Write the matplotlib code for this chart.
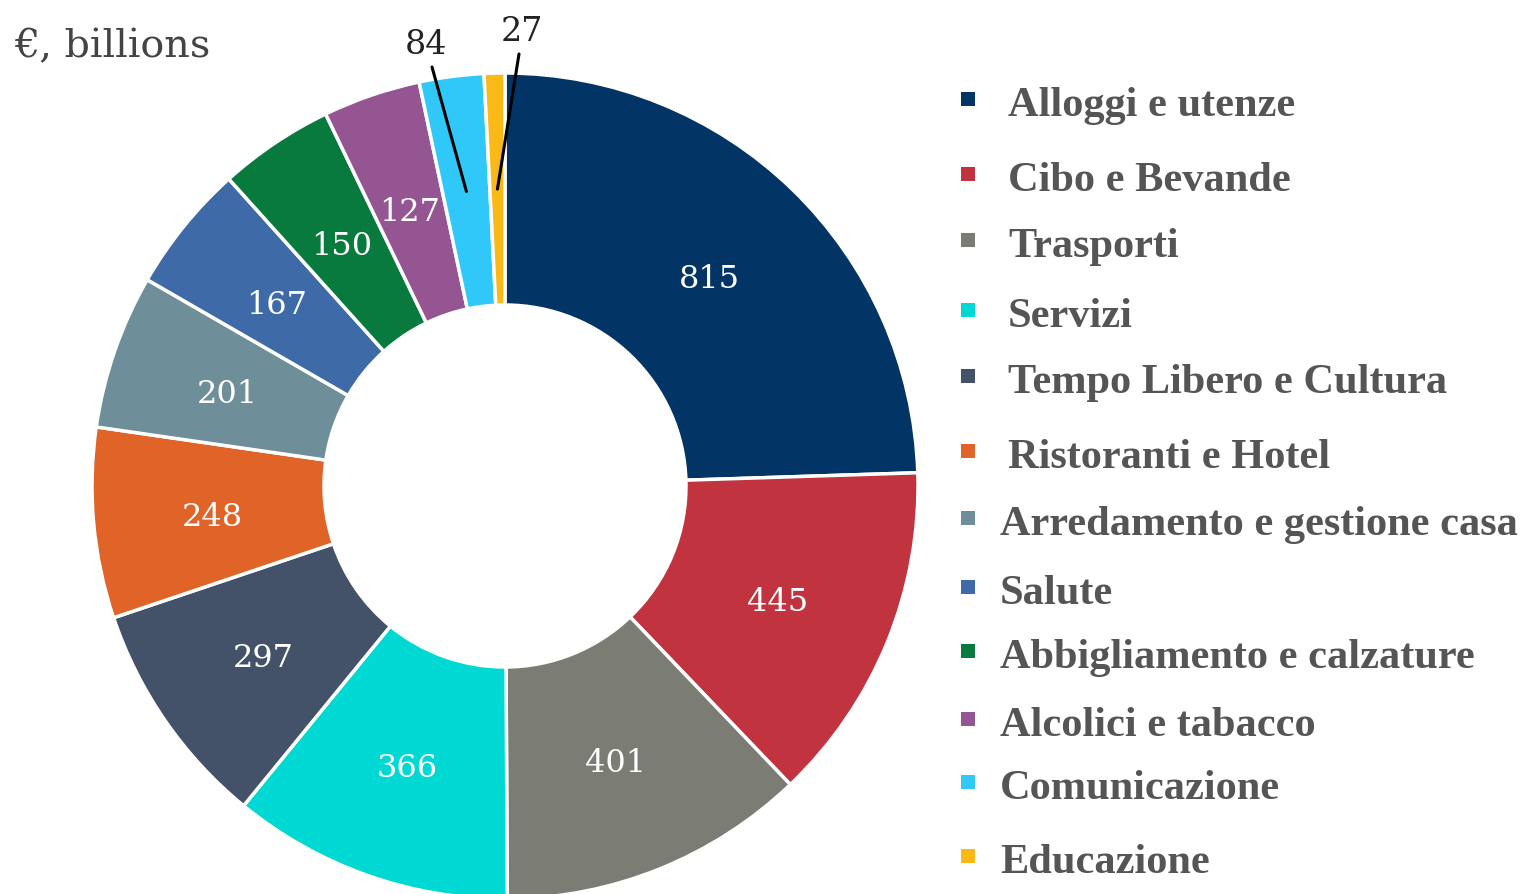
import numpy as np
import matplotlib
matplotlib.use("Agg")
import matplotlib.pyplot as plt

categories = ["Alloggi e utenze", "Cibo e Bevande", "Trasporti", "Servizi",
              "Tempo Libero e Cultura", "Ristoranti e Hotel",
              "Arredamento e gestione casa", "Salute", "Abbigliamento e calzature",
              "Alcolici e tabacco", "Comunicazione", "Educazione"]
values = [815, 445, 401, 366, 297, 248, 201, 167, 150, 127, 84, 27]
colors = ["#023466", "#c1333f", "#7b7c74", "#00d9d3", "#435169", "#e06328",
          "#6e8f9a", "#3e6aa8", "#087a3e", "#945592", "#30c8f8", "#fbb917"]
unit_label = "€, billions"

W, H = 1524, 894
fig = plt.figure(figsize=(W / 100, H / 100), dpi=100)
ax = fig.add_axes([0, 0, 1, 1])

cx, cy = 505, H - 486
R, r_in = 413, 181
ring = R - r_in

wedges, _ = ax.pie(values, colors=colors, startangle=90, counterclock=False,
                   radius=R, center=(cx, cy),
                   wedgeprops=dict(width=ring, edgecolor="white", linewidth=2.5),
                   frame=True)
ax.set_xlim(0, W)
ax.set_ylim(0, H)
ax.set_aspect("auto")
ax.axis("off")

mid_r = (R + r_in) / 2
outside = {10: (426, 45), 11: (522, 32)}
for i, w in enumerate(wedges):
    ang = np.deg2rad((w.theta1 + w.theta2) / 2)
    px = cx + (mid_r - 3) * np.cos(ang)
    py = cy + (mid_r - 3) * np.sin(ang)
    if i in outside:
        tx, ty = outside[i]
        ax.text(tx, H - ty, str(values[i]), ha="center", va="center",
                fontsize=24, family="DejaVu Serif", color="#222222")
        mx = cx + mid_r * np.cos(ang)
        my = cy + mid_r * np.sin(ang)
        ax.plot([tx + (6 if i == 10 else -3), mx], [H - ty - 22, my],
                color="black", lw=2.2, solid_capstyle="round", zorder=5)
    else:
        ax.text(px, py - 5, str(values[i]), ha="center", va="center",
                fontsize=23, family="DejaVu Serif", color="white")

ax.text(14, H - 47, unit_label, ha="left", va="center", fontsize=28.5,
        family="DejaVu Serif", color="#444444")

# legend
row_y = [103, 178, 244, 314, 380, 455, 522, 591, 655, 723, 786, 860]
text_x = [1008] * 6 + [1000] * 6
for i, (name, col) in enumerate(zip(categories, colors)):
    y = H - row_y[i]
    ax.add_patch(plt.Rectangle((961, y - 3), 14, 14, color=col, lw=0))
    ax.text(text_x[i], y - 3, name, ha="left", va="center", fontsize=30.5,
            family="Liberation Serif", weight="bold", color="#555555")

fig.savefig("out.png", dpi=100)
